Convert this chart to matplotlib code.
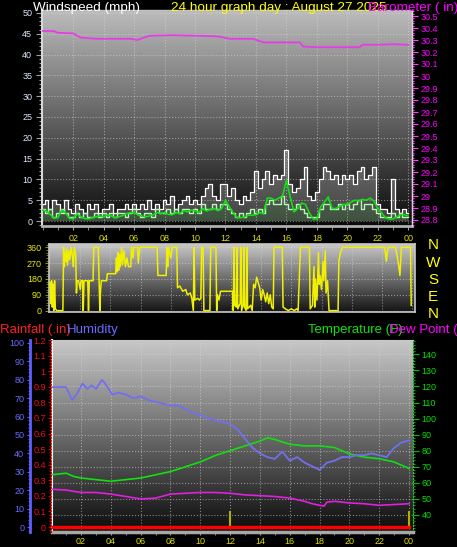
import numpy as np
import matplotlib.pyplot as plt
from matplotlib.colors import LinearSegmentedColormap
from matplotlib.ticker import MultipleLocator, FixedLocator

plt.rcParams['font.family'] = ['Liberation Sans', 'DejaVu Sans']

# ---------------- data ----------------
wind_hours = np.arange(97) * 0.25
gust = [4, 5, 3, 5, 4, 2, 5, 3,
        2, 4, 3, 2, 4, 3, 4, 2,
        3, 3, 4, 2, 3, 3, 4, 3,
        4, 3, 4, 3, 5, 3, 4, 3,
        5, 4, 6, 3, 4, 5, 6, 4,
        5, 4, 6, 8, 9, 6, 5, 9,
        9, 6, 8, 5, 4, 6, 5, 7,
        12, 8, 10, 12, 9, 11, 10, 11,
        17, 9, 7, 8, 10, 13, 6, 5,
        7, 10, 13, 12, 10, 11, 9, 11,
        10, 11, 9, 12, 13, 10, 11, 13,
        4, 3, 3, 2, 10, 3, 2, 3,
        2]
speed = [3, 2, 3, 1, 2, 3, 2, 1,
         1, 2, 1, 2, 1, 1, 2, 1,
         2, 1, 2, 1, 2, 2, 1, 2,
         3, 2, 1, 2, 2, 1, 3, 2,
         2, 3, 2, 3, 2, 3, 3, 2,
         3, 2, 4, 3, 3, 4, 3, 4,
         4, 3, 2, 1, 2, 1, 2, 3,
         2, 3, 2, 4, 5, 4, 4, 6,
         4, 3, 3, 4, 3, 2, 1, 1,
         1, 3, 4, 4, 3, 3, 4, 3,
         4, 3, 4, 5, 3, 4, 4, 3,
         2, 1, 1, 1, 2, 1, 2, 1,
         1]
avg = [2.6, 2.4, 1.5, 0.7, 0.8, 2.6, 2.0, 0.6,
       0.5, 1.7, 1.0, 0.6, 0.5, 0.8, 1.0, 1.2,
       1.0, 1.5, 1.2, 0.8, 1.0, 1.3, 1.8, 2.0,
       2.0, 1.5, 1.2, 1.0, 1.2, 1.5, 2.0, 1.8,
       2.0, 1.6, 1.5, 2.0, 1.8, 2.5, 2.2, 2.6,
       2.5, 2.0, 3.0, 2.4, 2.8, 3.0, 2.5, 3.0,
       5.0, 3.4, 2.0, 0.8, 0.8, 1.0, 1.4, 1.4,
       1.5, 2.0, 1.8, 5.5, 5.5, 5.0, 5.5, 6.0,
       9.8, 5.8, 2.2, 3.0, 4.3, 4.0, 2.0, 0.5,
       0.5, 3.4, 4.5, 5.8, 3.0, 3.0, 3.5, 4.0,
       4.0, 4.5, 5.0, 4.8, 5.2, 5.0, 5.5, 4.8,
       3.0, 2.0, 0.8, 0.5, 0.5, 1.0, 1.5, 1.5,
       1.2]

baro_hours = [0, 0.7, 1, 2, 2.5, 3.5, 5.8, 6.2, 7, 8.5, 10.3, 11.5,
              12.3, 13.8, 14.5, 16.9, 17.1, 18, 19, 20.8, 21, 22, 23, 24]
baro = [30.375, 30.375, 30.36, 30.355, 30.32, 30.31, 30.31, 30.30, 30.335,
        30.34, 30.335, 30.33, 30.31, 30.31, 30.28, 30.28, 30.245, 30.24,
        30.24, 30.24, 30.26, 30.26, 30.265, 30.26]

dir_pts = [(0.00, 160), (0.05, 40), (0.10, 170), (0.15, 20), (0.2, 150), (0.25, 0),
           (0.3, 170), (0.35, 10), (0.45, 0), (0.85, 0), (0.9, 360), (0.95, 250),
           (1.0, 330), (1.05, 280), (1.1, 350), (1.15, 260), (1.25, 340), (1.3, 290),
           (1.4, 360), (1.5, 300), (1.55, 250), (1.6, 360), (1.7, 320), (1.75, 100),
           (1.8, 170), (1.9, 170), (2.0, 120), (2.05, 170), (2.15, 170), (2.2, 0),
           (2.25, 170), (2.5, 170), (2.55, 0), (2.6, 170), (2.85, 170), (2.9, 360),
           (3.2, 360), (3.25, 170), (3.3, 0), (3.35, 120), (3.4, 170), (3.75, 170),
           (3.8, 210), (4.35, 210), (4.4, 300), (4.45, 220), (4.5, 330), (4.55, 230),
           (4.6, 320), (4.65, 250), (4.75, 360), (4.8, 260), (4.9, 340), (5.0, 250),
           (5.1, 300), (5.2, 250), (5.35, 250), (5.4, 360), (5.5, 300), (5.55, 360),
           (5.8, 360), (5.85, 270), (5.95, 360), (7.1, 360), (7.15, 200), (7.7, 200),
           (7.75, 360), (7.8, 250), (7.85, 360), (8.0, 300), (8.1, 360), (8.4, 360),
           (8.45, 130), (8.6, 140), (8.8, 110), (9.0, 120), (9.1, 90), (9.3, 100),
           (9.4, 70), (9.5, 0), (9.55, 360), (9.6, 60), (9.8, 70), (9.9, 60),
           (10.0, 70), (10.05, 360), (10.15, 360), (10.2, 0), (10.6, 0), (10.65, 360),
           (11.0, 360), (11.05, 0), (11.1, 90), (11.2, 60), (11.3, 110), (12.1, 110),
           (12.15, 0), (12.2, 360), (12.25, 30), (12.35, 20), (12.4, 360), (12.45, 10),
           (12.6, 40), (12.65, 360), (12.7, 0), (12.8, 30), (12.85, 360), (12.9, 20),
           (13.0, 0), (13.05, 360), (13.1, 10), (13.3, 30), (13.4, 0), (13.5, 150),
           (13.6, 130), (13.7, 190), (13.8, 160), (13.9, 130), (14.0, 60), (14.1, 120),
           (14.2, 90), (14.3, 50), (14.4, 100), (14.5, 40), (14.6, 90), (14.7, 20),
           (14.8, 10), (14.85, 360), (15.4, 360), (15.45, 20), (15.6, 10), (15.8, 0),
           (16.0, 10), (16.2, 0), (16.35, 10), (16.45, 0), (16.6, 360), (17.2, 360),
           (17.25, 10), (17.4, 30), (17.5, 250), (17.55, 20), (17.6, 180), (17.7, 60),
           (17.8, 330), (17.85, 150), (17.9, 200), (18.0, 120), (18.1, 280), (18.15, 170),
           (18.25, 340), (18.3, 100), (18.4, 170), (18.5, 0), (19.1, 0), (19.15, 280),
           (19.25, 330), (19.4, 360), (22.2, 360), (22.3, 280), (22.4, 360), (22.9, 360),
           (23.0, 320), (23.1, 270), (23.2, 200), (23.3, 360), (23.9, 360), (23.95, 30)]
dir_hours = [p[0] for p in dir_pts]
dir_deg = [p[1] for p in dir_pts]

hum_hours = [0, 0.5, 1, 1.4, 1.7, 2.1, 2.4, 2.7, 3.0, 3.4, 3.7, 4.1, 4.5, 5, 5.5, 6,
             6.5, 7, 7.5, 8, 8.5, 9, 9.5, 10, 10.5, 11, 11.5, 12, 12.5, 13, 13.5, 14,
             14.5, 15, 15.5, 16, 16.5, 17, 17.5, 18, 18.5, 19, 19.5, 20, 20.5, 21,
             21.5, 22, 22.5, 23, 23.5, 24]
hum = [76, 76, 76, 69, 72, 78, 75, 77, 75, 80, 77, 72, 73, 72, 70, 71, 69, 68, 67, 66,
       66, 64, 62, 61, 59, 58, 57, 56, 53, 48, 43, 40, 38, 37, 41, 36, 38, 35, 33, 31,
       35, 36, 38, 38, 39, 39, 40, 39, 38, 43, 46, 47]

temp_hours = [0, 1, 1.5, 2, 3, 4, 5, 6, 7, 8, 9, 10, 11, 12, 13, 14, 14.5, 15, 16, 17,
              18, 19, 20, 21, 22, 23, 24]
temp = [65, 66, 64, 63, 62, 61, 62, 63, 65, 67, 70, 73, 77, 80, 83, 86, 88, 87, 84, 83,
        83, 82, 78, 76, 75, 73, 69]

dew_hours = [0, 1, 2, 3, 4, 5, 6, 7, 8, 9, 10, 11, 12, 13, 14, 15, 16, 17, 17.5, 18,
             18.3, 18.5, 19, 20, 21, 22, 23, 24]
dew = [56, 55.5, 54, 54, 53, 51.5, 50, 50.5, 53, 53.5, 54, 54, 53.5, 52.5, 52, 51.5,
       50.5, 48.5, 47, 46, 45.5, 48, 48.5, 47.5, 47, 46, 46.5, 47]

rain_hours = [0, 24]
rain = [0, 0]
marker_hours = [12, 24]

xtick_hours = list(range(2, 25, 2))
xtick_labels = ['02', '04', '06', '08', '10', '12', '14', '16', '18', '20', '22', '00']

# ---------------- figure ----------------
W, H = 457, 547
fig = plt.figure(figsize=(W / 100, H / 100), dpi=100, facecolor='black')


def box(l, t, r, b):
    return [l / W, 1 - b / H, (r - l) / W, (b - t) / H]


def gradient(ax, top, bottom):
    g = np.linspace(0, 1, 256).reshape(-1, 1)
    cmap = LinearSegmentedColormap.from_list('bg', [bottom, top])
    ax.imshow(g, aspect='auto', cmap=cmap, extent=[0, 1, 0, 1],
              transform=ax.transAxes, origin='lower', zorder=0)


def grid(ax, axis='both'):
    ax.grid(True, axis=axis, color='#d8d8d8', ls=':', lw=0.8, alpha=0.55)


# ---- windspeed / barometer ----
ax1 = fig.add_axes(box(42, 10, 412, 226))
ax1b = ax1.twinx()
ax1.set_facecolor('black')
gradient(ax1, '#bcbcbc', '#0a0a0a')
ax1.fill_between(wind_hours, speed, gust, step='mid', color='white', alpha=0.22, lw=0, zorder=2)
ax1.step(wind_hours, gust, where='mid', color='white', lw=0.9, zorder=3)
ax1.fill_between(wind_hours, 0, speed, step='mid', color='#b0f0b0', alpha=0.3, lw=0, zorder=3)
ax1.step(wind_hours, speed, where='mid', color='#b8f4b8', lw=1.0, zorder=4)
ax1.plot(wind_hours, avg, color='#10e010', lw=1.2, zorder=5)
ax1.set_xlim(-0.05, 24.25)
ax1.set_ylim(-1.2, 50.7)
ax1.yaxis.set_major_locator(MultipleLocator(5))
ax1.yaxis.set_minor_locator(MultipleLocator(1))
ax1.set_xticks(xtick_hours)
ax1.set_xticklabels(xtick_labels)
ax1.xaxis.set_minor_locator(MultipleLocator(1))
ax1.tick_params(axis='y', which='both', colors='#a0a0a0', labelcolor='#dde8ff',
                labelsize=6.5, length=4, width=0.8, pad=3)
ax1.tick_params(axis='y', which='minor', length=2)
ax1.tick_params(axis='x', which='both', colors='#a0a0a0', labelcolor='#e0e000',
                labelsize=6.5, length=3, pad=3)
grid(ax1)
for s, c, w in [('left', '#d8d8d8', 1.5), ('bottom', '#b0b0b0', 2), ('top', '#c0c0c0', 1),
                ('right', '#d8d8d8', 1)]:
    ax1.spines[s].set_color(c)
    ax1.spines[s].set_linewidth(w)

ax1b.plot(baro_hours, baro, color='#e83ce8', lw=1.3)
ax1b.set_ylim(28.75, 30.55)
bt = np.round(np.arange(28.8, 30.51, 0.1), 1)
ax1b.yaxis.set_major_locator(FixedLocator(bt))
ax1b.set_yticklabels([f'{v:g}' for v in bt])
ax1b.yaxis.set_minor_locator(MultipleLocator(0.02))
ax1b.tick_params(axis='y', which='both', colors='#ff40ff', labelcolor='#ff00ff',
                 labelsize=6.5, length=4, width=0.8, pad=2)
ax1b.tick_params(axis='y', which='minor', length=1.5)
ax1b.spines['right'].set_color('#d8d8d8')
ax1b.spines['right'].set_linestyle(':')
for s in ['left', 'top', 'bottom']:
    ax1b.spines[s].set_visible(False)

fig.text(33 / W, 1 - 11.5 / H, 'Windspeed (mph)', color='white', fontsize=9.7, va='baseline')
fig.text(171 / W, 1 - 11.5 / H, '24 hour graph day : August 27 2025', color='#ffff00',
         fontsize=9.7, va='baseline')
fig.text(368 / W, 1 - 11.5 / H, 'Barometer ( in)', color='#ff00ff', fontsize=9.7, va='baseline')

# ---- wind direction ----
ax2 = fig.add_axes(box(49, 244, 415, 312))
ax2.set_facecolor('black')
gradient(ax2, '#c8c8c8', '#141414')
ax2.plot(dir_hours, dir_deg, color='#f0f000', lw=1.1, zorder=3)
ax2.set_xlim(-0.07, 24.2)
ax2.set_ylim(-8, 379)
ax2.set_yticks([0, 90, 180, 270, 360])
ax2.yaxis.set_minor_locator(MultipleLocator(15))
ax2.set_xticks(xtick_hours)
ax2.tick_params(axis='x', which='both', length=0, labelbottom=False)
ax2.tick_params(axis='y', which='both', colors='#909000', labelcolor='#e8e800',
                labelsize=6.5, length=3, pad=2)
ax2.tick_params(axis='y', which='minor', length=2)
grid(ax2)
for s in ax2.spines.values():
    s.set_color('#c8c8c8')
    s.set_linewidth(1.2)

for lbl, yy in zip(['N', 'W', 'S', 'E', 'N'], [245, 263, 280, 297, 314]):
    fig.text(433 / W, 1 - yy / H, lbl, color='#ffff00', fontsize=11,
             ha='center', va='center')

# ---- rain / humidity / temperature / dew point ----
ax3 = fig.add_axes(box(52, 340, 413, 532))
ax_rain = ax3.twinx()
ax_hum = ax3.twinx()

ax3.set_facecolor('black')
gradient(ax3, '#c8c8c8', '#0c0c0c')
ax3.plot(temp_hours, temp, color='#10e010', lw=1.2, zorder=3)
ax3.plot(dew_hours, dew, color='#e020e0', lw=1.2, zorder=3)
ax3.set_xlim(0.05, 24.27)
ax3.set_ylim(29.4, 148.9)
ax3.set_yticks(range(40, 141, 10))
ax3.yaxis.set_minor_locator(MultipleLocator(2))
ax3.yaxis.tick_right()
ax3.set_xticks(xtick_hours)
ax3.set_xticklabels(xtick_labels)
ax3.xaxis.set_minor_locator(MultipleLocator(1))
ax3.tick_params(axis='y', which='both', left=False, labelleft=False, right=True,
                labelright=True, colors='#00c000', labelcolor='#00e000',
                labelsize=6.5, length=4, pad=2)
ax3.tick_params(axis='y', which='minor', length=1.5)
ax3.tick_params(axis='x', which='both', colors='#a0a0a0', labelcolor='#e0e000',
                labelsize=6.5, length=2, pad=1.5)
grid(ax3)
ax3.spines['left'].set_color('white')
ax3.spines['left'].set_linewidth(1.5)
ax3.spines['bottom'].set_color('#a8a8a8')
ax3.spines['bottom'].set_linewidth(2.5)
ax3.spines['top'].set_color('#c8c8c8')
ax3.spines['right'].set_color('#30d030')
ax3.spines['right'].set_linestyle(':')

ax_rain.plot(rain_hours, rain, color='#ff0000', lw=2.5, zorder=4)
ax_rain.vlines(marker_hours, 0, 0.1, color='#b0b000', lw=1.5)
ax_rain.set_ylim(-0.032, 1.2)
rt = np.round(np.arange(0, 1.21, 0.1), 1)
ax_rain.yaxis.set_major_locator(FixedLocator(rt))
ax_rain.set_yticklabels([f'{v:g}' for v in rt])
ax_rain.yaxis.set_minor_locator(MultipleLocator(0.02))
ax_rain.tick_params(axis='y', which='both', left=True, labelleft=True, right=False,
                    labelright=False, colors='#d00000', labelcolor='#ee1010',
                    labelsize=6.5, length=2.5, pad=1)
ax_rain.tick_params(axis='y', which='minor', length=1.2)
ax_rain.spines['left'].set_position(('outward', 1))
ax_rain.spines['left'].set_visible(True)
ax_rain.spines['left'].set_color('#e00000')
ax_rain.spines['left'].set_linestyle(':')
for s in ['right', 'top', 'bottom']:
    ax_rain.spines[s].set_visible(False)

ax_hum.plot(hum_hours, hum, color='#7070f0', lw=1.3, zorder=4)
ax_hum.set_ylim(-2.7, 101.6)
ax_hum.set_yticks(range(0, 101, 10))
ax_hum.yaxis.set_minor_locator(MultipleLocator(2))
ax_hum.tick_params(axis='y', which='both', left=True, labelleft=True, right=False,
                   labelright=False, colors='#6060ff', labelcolor='#6a6aff',
                   labelsize=6.5, length=2, pad=2.5)
ax_hum.tick_params(axis='y', which='minor', length=1.5)
ax_hum.spines['left'].set_position(('outward', 15.5))
ax_hum.spines['left'].set_visible(True)
ax_hum.spines['left'].set_color('#6060ff')
ax_hum.spines['left'].set_linewidth(2)
for s in ['right', 'top', 'bottom']:
    ax_hum.spines[s].set_visible(False)

fig.text(0 / W, 1 - 333 / H, 'Rainfall (.in)', color='#ff2020', fontsize=9.5, va='baseline')
fig.text(67 / W, 1 - 333 / H, 'Humidity', color='#6a6aff', fontsize=9.5, va='baseline')
fig.text(308 / W, 1 - 333 / H, 'Temperature (F)', color='#10e010', fontsize=9.5, va='baseline')
fig.text(389 / W, 1 - 333 / H, 'Dew Point (F)', color='#ff00ff', fontsize=9.5, va='baseline')

fig.savefig('out.png', dpi=100, facecolor='black')
